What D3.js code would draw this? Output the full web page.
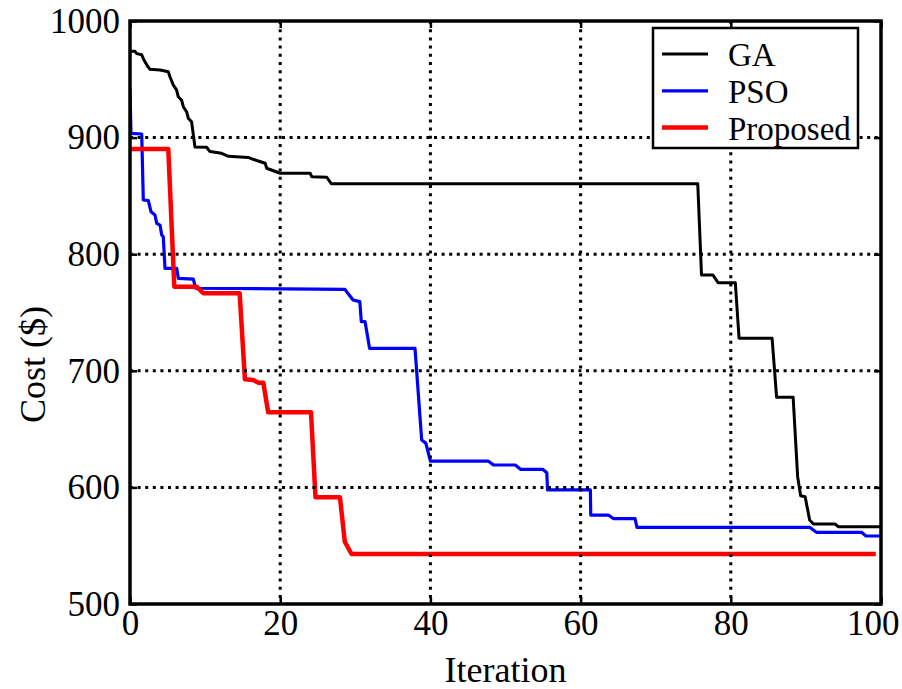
<!DOCTYPE html>
<html>
<head>
<meta charset="utf-8">
<script src="https://cdn.jsdelivr.net/npm/d3@7"></script>
<style>
  html, body { margin: 0; padding: 0; background: #fff; }
  svg { display: block; }
</style>
</head>
<body>
<svg id="chart" width="902" height="689"></svg>
<script>
// convergence curves: best cost found so far at each iteration
const gaIter = [0, 0.67, 0.9, 1.56, 1.86, 2.36, 2.66, 4.0, 5.1, 5.33, 5.77, 6.2, 6.43, 6.88, 7.1, 7.55, 7.76, 8.2, 8.65,
  10.2, 10.65, 12.2, 13.1, 15.75, 16.4, 18.0, 18.2, 20.0, 24.0, 24.2, 26.2, 26.8, 75.6, 76.1, 77.6, 78.3, 80.6, 81.1,
  85.5, 86.1, 88.3, 88.9, 89.3, 89.9, 90.5, 91.0, 93.9, 94.3, 100];
const gaCost = [974, 974, 972, 971, 966.5, 961, 958.6, 958, 956.5, 952, 945, 941, 935, 932, 926.5, 922, 916.5, 913.6, 892,
  891.7, 888, 886.5, 884, 883, 881.4, 878, 873.7, 869.4, 869.4, 866.5, 866, 860.5, 860.5, 782.2, 782.2, 775.6, 775.6, 727.9,
  727.9, 677.3, 677.3, 609.2, 592.9, 592, 572, 568.6, 568.6, 566.3, 566.3];

const psoIter = [0, 0.13, 1.56, 1.77, 2.44, 2.8, 3.33, 3.56, 4.0, 4.22, 4.43, 4.66, 6.22, 6.43, 8.43, 8.75,
  28.6, 29.7, 30.6, 30.8, 31.3, 31.9, 37.95, 38.84, 39.4, 40.0, 47.7, 48.4, 51.3, 52.0, 54.95, 55.5, 55.6,
  61.3, 61.35, 63.7, 64.35, 67.25, 67.5, 90.5, 91.4, 97.4, 98.0, 100];
const psoCost = [940.8, 903.7, 903.1, 846.5, 846, 836.4, 833.6, 826.5, 825, 816.5, 815, 787.9, 787.9, 779.3, 778.7, 770.8,
  769.9, 760.7, 759.3, 742.1, 742.1, 719.3, 719.3, 640.7, 637.8, 622.6, 622.6, 619.2, 619.2, 615.5, 615.5, 612.6, 597.8,
  597.8, 576.3, 576.3, 573.3, 573.3, 565.8, 565.8, 561.5, 561.5, 558.3, 558.3];

const propIter = [0, 5.1, 5.9, 8.87, 9.76, 14.6, 15.3, 16.4, 17.1, 17.75, 18.4, 24.1, 24.7, 27.96, 28.6, 29.5, 99];
const propCost = [890.2, 890.2, 772.1, 772.1, 766.5, 766.5, 692.7, 692.1, 689.8, 689.8, 664.4, 664.4, 591.5, 591.5,
  553.4, 542.9, 542.9];

const seriesNames = ['GA', 'PSO', 'Proposed'];
const xTicks = [0, 20, 40, 60, 80, 100];
const yTicks = [500, 600, 700, 800, 900, 1000];

const FONT = '"Liberation Serif", "Times New Roman", serif';

const svg = d3.select('#chart');
const margin = { top: 21, right: 21, bottom: 85, left: 130 };
const width = +svg.attr('width');
const height = +svg.attr('height');
const w = width - margin.left - margin.right;
const h = height - margin.top - margin.bottom;

const x = d3.scaleLinear().domain([0, 100]).range([0, w]);
const y = d3.scaleLinear().domain([500, 1000]).range([h, 0]);

const g = svg.append('g').attr('transform', `translate(${margin.left},${margin.top})`);

g.append('clipPath').attr('id', 'plotClip')
  .append('rect').attr('width', w).attr('height', h);

// curves
const series = [
  { name: seriesNames[0], iter: gaIter, cost: gaCost, color: '#000000', width: 3 },
  { name: seriesNames[1], iter: psoIter, cost: psoCost, color: '#0000ff', width: 3.2 },
  { name: seriesNames[2], iter: propIter, cost: propCost, color: '#ff0000', width: 4.5 }
];

const line = d3.line()
  .x(d => x(d[0]))
  .y(d => y(d[1]));

g.append('g').attr('clip-path', 'url(#plotClip)')
  .selectAll('path')
  .data(series)
  .join('path')
    .attr('d', s => line(s.iter.map((t, i) => [t, s.cost[i]])))
    .attr('fill', 'none')
    .attr('stroke', s => s.color)
    .attr('stroke-width', s => s.width)
    .attr('stroke-linejoin', 'round')
    .attr('stroke-linecap', 'square');

// dotted grid on top of the curves
const grid = g.append('g');
grid.selectAll('.vgrid')
  .data(xTicks.slice(1, -1))
  .join('line')
    .attr('class', 'vgrid')
    .attr('x1', d => x(d)).attr('x2', d => x(d))
    .attr('y1', 0).attr('y2', h)
    .attr('stroke', '#000').attr('stroke-width', 3)
    .attr('stroke-dasharray', '3,5.2');
grid.selectAll('.hgrid')
  .data(yTicks.slice(1, -1))
  .join('line')
    .attr('class', 'hgrid')
    .attr('x1', 0).attr('x2', w)
    .attr('y1', d => y(d)).attr('y2', d => y(d))
    .attr('stroke', '#000').attr('stroke-width', 3)
    .attr('stroke-dasharray', '3,4.6');

// axes with inward ticks on all four sides
const tickLen = 7;
const fmt = d3.format('d');
const xAxisB = d3.axisBottom(x).tickValues(xTicks).tickFormat(fmt).tickSizeInner(-tickLen).tickSizeOuter(0);
const xAxisT = d3.axisTop(x).tickValues(xTicks).tickSizeInner(-tickLen).tickSizeOuter(0).tickFormat('');
const yAxisL = d3.axisLeft(y).tickValues(yTicks).tickFormat(fmt).tickSizeInner(-tickLen).tickSizeOuter(0).tickPadding(tickLen + 3);
const yAxisR = d3.axisRight(y).tickValues(yTicks).tickSizeInner(-tickLen).tickSizeOuter(0).tickFormat('');

function styleAxis(sel) {
  sel.attr('font-family', null).attr('font-size', null);
  sel.select('.domain').remove();
  sel.selectAll('.tick line').attr('stroke', '#000').attr('stroke-width', 2.5);
  sel.selectAll('.tick text')
    .style('font-family', FONT)
    .style('font-size', '35px')
    .attr('fill', '#000');
}

const xb = g.append('g').attr('transform', `translate(0,${h})`).call(xAxisB).call(styleAxis);
xb.selectAll('.tick text').attr('y', 31).attr('dy', 0);
// the last label sits flush against the right edge
xb.selectAll('.tick text').filter(d => d === 100).attr('text-anchor', 'end').attr('x', 18);
g.append('g').call(xAxisT).call(styleAxis);
g.append('g').call(yAxisL).call(styleAxis);
g.append('g').attr('transform', `translate(${w},0)`).call(yAxisR).call(styleAxis);

// frame
g.append('rect')
  .attr('width', w).attr('height', h)
  .attr('fill', 'none')
  .attr('stroke', '#000')
  .attr('stroke-width', 3.5);

// axis labels
svg.append('text')
  .attr('x', margin.left + w / 2)
  .attr('y', 682)
  .attr('text-anchor', 'middle')
  .style('font-family', FONT)
  .style('font-size', '36px')
  .text('Iteration');

svg.append('text')
  .attr('transform', `translate(45,${margin.top + h / 2 + 52}) rotate(-90)`)
  .attr('text-anchor', 'middle')
  .style('font-family', FONT)
  .style('font-size', '36px')
  .text('Cost ($)');

// legend
const legend = svg.append('g').attr('transform', 'translate(653,28)');
legend.append('rect')
  .attr('width', 205).attr('height', 120)
  .attr('fill', '#fff')
  .attr('stroke', '#000')
  .attr('stroke-width', 2.5);

const item = legend.selectAll('.item')
  .data(series)
  .join('g')
    .attr('class', 'item')
    .attr('transform', (d, i) => `translate(0,${26 + i * 36.8})`);

item.append('line')
  .attr('x1', 9).attr('x2', 55)
  .attr('stroke', d => d.color)
  .attr('stroke-width', d => d.width);

item.append('text')
  .attr('x', 75)
  .attr('y', 12)
  .style('font-family', FONT)
  .style('font-size', '33px')
  .text(d => d.name);
</script>
</body>
</html>
